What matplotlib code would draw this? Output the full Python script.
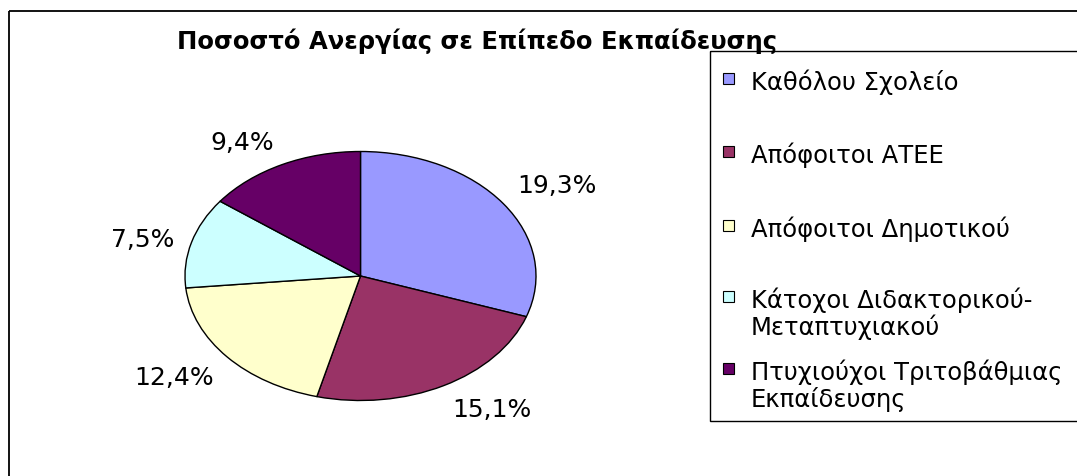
import matplotlib
matplotlib.use("Agg")
import matplotlib.pyplot as plt
from matplotlib.patches import Rectangle

# ---- data ----
title = "Ποσοστό Ανεργίας σε Επίπεδο Εκπαίδευσης"
categories = [
    "Καθόλου Σχολείο",
    "Απόφοιτοι ΑΤΕΕ",
    "Απόφοιτοι Δημοτικού",
    "Κάτοχοι Διδακτορικού-\nΜεταπτυχιακού",
    "Πτυχιούχοι Τριτοβάθμιας\nΕκπαίδευσης",
]
values = [19.3, 15.1, 12.4, 7.5, 9.4]
colors = ["#9999FF", "#993366", "#FFFFCC", "#CCFFFF", "#660066"]

pct_labels = [f"{v:.1f}".replace(".", ",") + "%" for v in values]

W, H = 1077, 477
fig = plt.figure(figsize=(W / 100, H / 100), dpi=100)
fig.patch.set_facecolor("white")

# background axes in pixel coordinates (y downwards)
bg = fig.add_axes([0, 0, 1, 1])
bg.set_xlim(0, W)
bg.set_ylim(H, 0)
bg.axis("off")

# outer chart frame (extends beyond the image to the right and bottom)
bg.add_patch(Rectangle((9, 12), 1200, 600, fill=False, ec="black", lw=1.3, clip_on=False))
# legend frame
bg.add_patch(Rectangle((710, 52), 500, 370, fill=False, ec="black", lw=1.0, clip_on=False))

# title
bg.text(477, 41, title, ha="center", va="center", fontsize=17.5, fontweight="bold",
        family="DejaVu Sans")

# pie axes spanning the elliptical pie bounding box
left, right, top, bottom = 185, 536, 152.5, 401.5
axp = fig.add_axes([left / W, (H - bottom) / H, (right - left) / W, (bottom - top) / H])
wedges, texts = axp.pie(
    values, colors=colors, startangle=90, counterclock=False,
    labels=pct_labels, labeldistance=1.1,
    wedgeprops=dict(edgecolor="black", linewidth=1.0, clip_on=False),
    textprops=dict(fontsize=18, family="DejaVu Sans"),
)
axp.set_aspect("auto")
axp.set_xlim(-1, 1)
axp.set_ylim(-1, 1)
axp.axis("off")
for t in texts:
    x, y = t.get_position()
    if y > 0.4:
        t.set_va("bottom")
    elif y < -0.4:
        t.set_va("top")
    else:
        t.set_va("center")

# legend (manual, Excel style: square aligned with first text line)
leg_fs = 17.5
fs_px = leg_fs * 100 / 72
leg_y = [79, 152, 226, 297, 369.5]
for name, col, y in zip(categories, colors, leg_y):
    bg.add_patch(Rectangle((723, y - 5.5), 11, 11, fc=col, ec="black", lw=0.8))
    bg.text(751, y - 0.395 * fs_px, name, ha="left", va="top", fontsize=leg_fs,
            family="DejaVu Sans", linespacing=1.08)

fig.savefig("out.png", dpi=100)
